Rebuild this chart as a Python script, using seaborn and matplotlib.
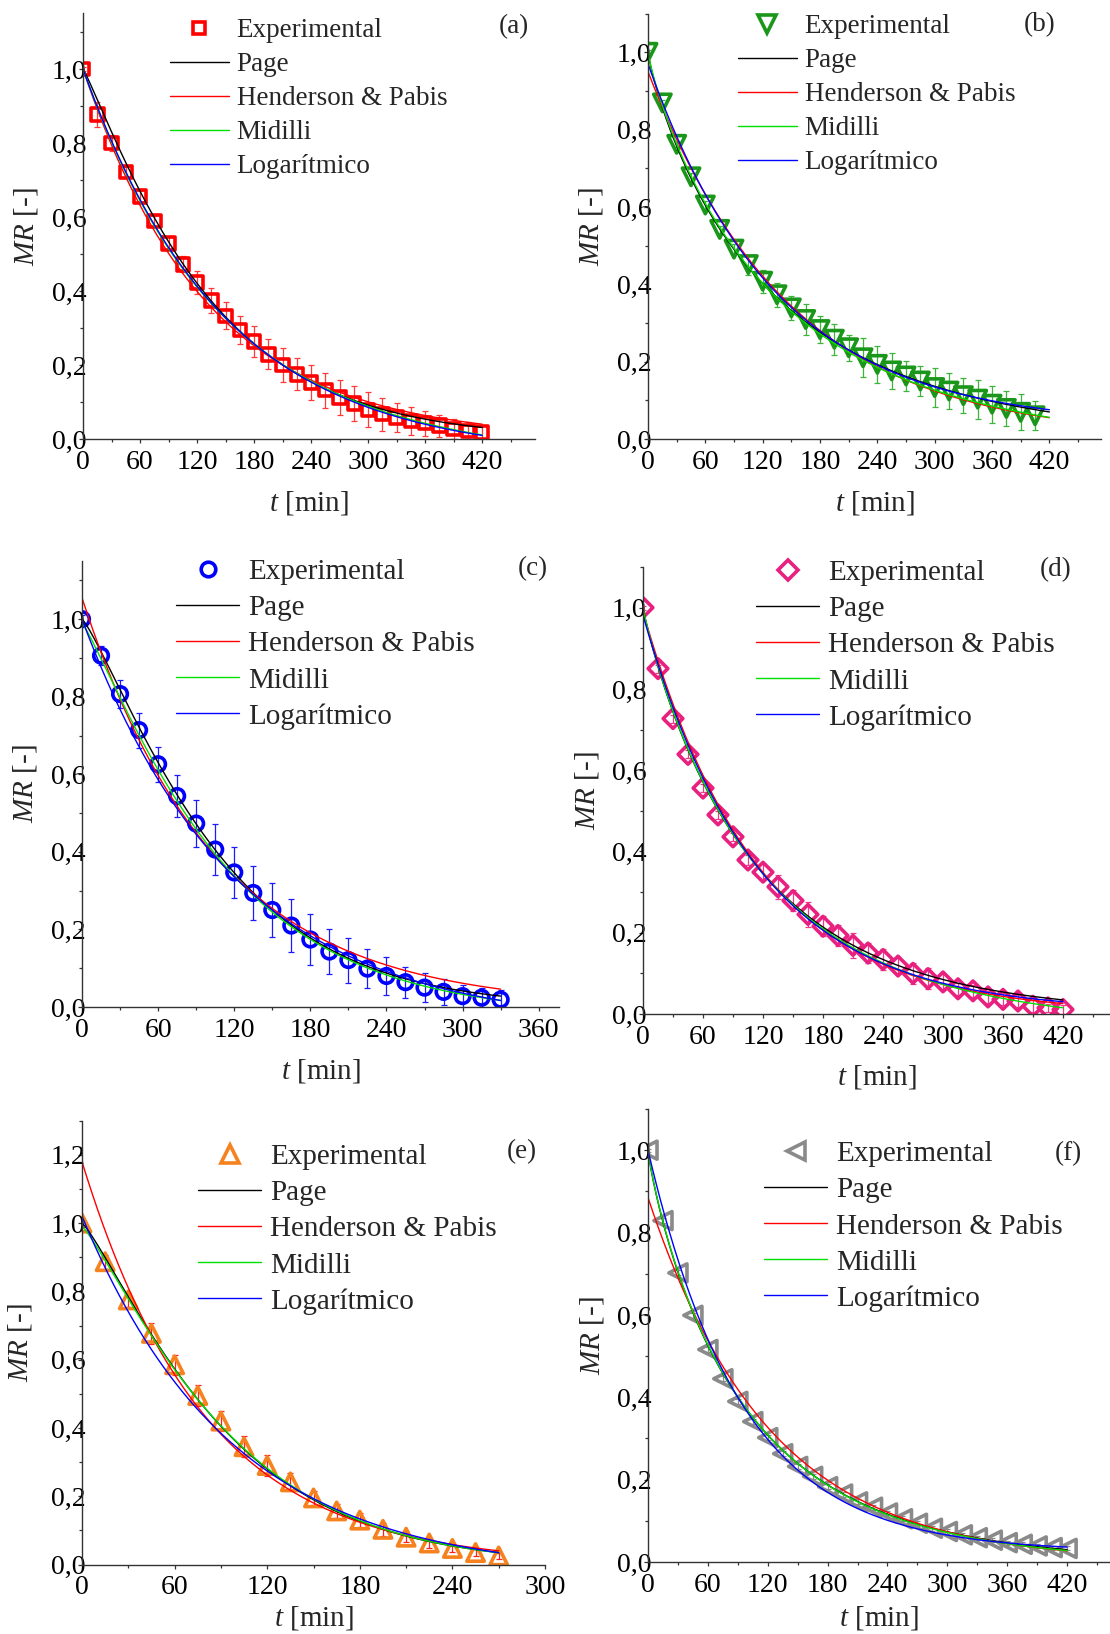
import numpy as np
import pandas as pd
import matplotlib
matplotlib.use("Agg")
import matplotlib.pyplot as plt
import seaborn as sns
from matplotlib.lines import Line2D
from matplotlib.ticker import MultipleLocator, FuncFormatter

# ---------------------------------------------------------------- data
# (a)
t_a = np.arange(0, 421, 15)
mr_a = [1.000, 0.877, 0.800, 0.721, 0.655, 0.589, 0.528, 0.472, 0.423, 0.375,
        0.333, 0.294, 0.263, 0.229, 0.200, 0.175, 0.153, 0.132, 0.112, 0.096,
        0.079, 0.067, 0.058, 0.049, 0.043, 0.036, 0.027, 0.022, 0.018]
err_a = [0.005, 0.035, 0.022, 0.015, 0.015, 0.015, 0.018, 0.022, 0.031, 0.034,
         0.037, 0.038, 0.042, 0.041, 0.046, 0.043, 0.047, 0.047, 0.047, 0.046,
         0.047, 0.045, 0.040, 0.037, 0.034, 0.030, 0.027, 0.023, 0.018]

# (b)
t_b = np.arange(0, 406, 15)
mr_b = [1.000, 0.869, 0.762, 0.678, 0.605, 0.542, 0.491, 0.451, 0.408, 0.373,
        0.339, 0.309, 0.283, 0.258, 0.236, 0.210, 0.193, 0.176, 0.163, 0.150,
        0.133, 0.124, 0.112, 0.103, 0.090, 0.079, 0.069, 0.060]
err_b = [0.005, 0.008, 0.008, 0.010, 0.010, 0.010, 0.012, 0.026, 0.030, 0.031,
         0.031, 0.040, 0.036, 0.040, 0.034, 0.050, 0.047, 0.047, 0.039, 0.040,
         0.050, 0.047, 0.045, 0.050, 0.048, 0.046, 0.047, 0.037]

# (c)
t_c = np.arange(0, 331, 15)
mr_c = [1.000, 0.906, 0.807, 0.714, 0.626, 0.544, 0.473, 0.406, 0.347, 0.294,
        0.250, 0.210, 0.174, 0.143, 0.121, 0.099, 0.080, 0.064, 0.050, 0.039,
        0.028, 0.024, 0.019]
err_c = [0.010, 0.025, 0.035, 0.045, 0.045, 0.055, 0.060, 0.065, 0.065, 0.070,
         0.070, 0.068, 0.065, 0.058, 0.058, 0.050, 0.050, 0.040, 0.037, 0.034,
         0.030, 0.025, 0.025]

# (d)
t_d = np.arange(0, 421, 15)
mr_d = [1.000, 0.850, 0.727, 0.639, 0.556, 0.490, 0.436, 0.379, 0.349, 0.313,
        0.279, 0.245, 0.216, 0.193, 0.169, 0.150, 0.134, 0.118, 0.100, 0.087,
        0.079, 0.062, 0.057, 0.042, 0.036, 0.032, 0.019, 0.015, 0.011]
err_d = [0.005, 0.010, 0.010, 0.010, 0.010, 0.010, 0.010, 0.012, 0.020, 0.030,
         0.025, 0.030, 0.025, 0.025, 0.030, 0.025, 0.025, 0.020, 0.025, 0.025,
         0.020, 0.015, 0.015, 0.015, 0.015, 0.015, 0.015, 0.010, 0.010]

# (e)
t_e = np.arange(0, 271, 15)
mr_e = [1.000, 0.887, 0.775, 0.677, 0.585, 0.495, 0.420, 0.345, 0.290, 0.242,
        0.195, 0.157, 0.130, 0.103, 0.080, 0.063, 0.047, 0.035, 0.025]
err_e = [0.010, 0.020, 0.020, 0.030, 0.030, 0.030, 0.030, 0.030, 0.030, 0.025,
         0.020, 0.020, 0.020, 0.020, 0.015, 0.015, 0.010, 0.010, 0.010]

# (f)
t_f = np.arange(0, 421, 15)
mr_f = [1.000, 0.829, 0.702, 0.599, 0.516, 0.445, 0.390, 0.341, 0.302, 0.263,
        0.232, 0.208, 0.183, 0.165, 0.146, 0.133, 0.119, 0.105, 0.094, 0.082,
        0.074, 0.066, 0.059, 0.053, 0.047, 0.043, 0.039, 0.035, 0.033]
err_f = [0.004, 0.006, 0.006, 0.006, 0.006, 0.006, 0.006, 0.006, 0.006, 0.006,
         0.006, 0.006, 0.006, 0.006, 0.006, 0.006, 0.006, 0.006, 0.006, 0.006,
         0.005, 0.005, 0.005, 0.005, 0.005, 0.005, 0.005, 0.005, 0.005]

# fitted model parameters per sample
# Page: exp(-k t^n) | Henderson & Pabis: a exp(-k t)
# Midilli: a exp(-k t^n) + b t | Logarithmic: a exp(-k t) + c
page_a = dict(k=0.00428, n=1.109)
hp_a = dict(a=1.000, k=0.00766)
mid_a = dict(a=1.000, k=0.0072, n=1.0, b=-0.00009)
log_a = dict(a=1.05, k=0.00683, c=-0.05)

page_b = dict(k=0.0152, n=0.855)
hp_b = dict(a=0.95, k=0.00678)
mid_b = dict(a=1.000, k=0.014, n=0.87, b=-0.00003)
log_b = dict(a=0.935, k=0.007464, c=0.035)

page_c = dict(k=0.003393, n=1.2)
hp_c = dict(a=1.055, k=0.00949)
mid_c = dict(a=0.99, k=0.0043, n=1.15, b=-0.00005)
log_c = dict(a=1.05, k=0.00835, c=-0.05)

page_d = dict(k=0.01298, n=0.92)
hp_d = dict(a=0.99, k=0.0087)
mid_d = dict(a=1.000, k=0.0128, n=0.92, b=-0.00005)
log_d = dict(a=0.975, k=0.0088, c=0.006)

page_e = dict(k=0.004193, n=1.194)
hp_e = dict(a=1.18, k=0.01253)
mid_e = dict(a=0.99, k=0.0042, n=1.19, b=-0.00001)
log_e = dict(a=1.05, k=0.01033, c=-0.03)

page_f = dict(k=0.0181, n=0.872)
hp_f = dict(a=0.885, k=0.0083)
mid_f = dict(a=1.000, k=0.0178, n=0.875, b=-0.000005)
log_f = dict(a=0.975, k=0.01062, c=0.025)

model_names = ["Page", "Henderson & Pabis", "Midilli", "Logarítmico"]
model_colors = ["#000000", "#ff0000", "#00e000", "#0000ff"]


def page(t, k, n):
    return np.exp(-k * t ** n)


def henderson(t, a, k):
    return a * np.exp(-k * t)


def midilli(t, a, k, n, b):
    return a * np.exp(-k * t ** n) + b * t


def logarithmic(t, a, k, c):
    return a * np.exp(-k * t) + c


# ---------------------------------------------------------------- style
sns.set_style("ticks")
plt.rcParams.update({
    "font.family": ["Liberation Serif", "DejaVu Serif"],
    "mathtext.fontset": "custom",
    "mathtext.rm": "Liberation Serif",
    "mathtext.it": "Liberation Serif:italic",
    "axes.edgecolor": "#333333",
    "axes.linewidth": 1.0,
    "xtick.color": "#333333",
    "ytick.color": "#333333",
    "xtick.labelcolor": "black",
    "ytick.labelcolor": "black",
})

W, H = 1110, 1634
fig = plt.figure(figsize=(W / 100, H / 100), dpi=100)
fig.patch.set_facecolor("white")

panels = [
    dict(tag="(a)", t=t_a, mr=mr_a, err=err_a, tmax=420,
         pars=(page_a, hp_a, mid_a, log_a),
         marker="s", ms=9.0, color="#ff0000", ecolor="#ff3a3a",
         box=(83, 534.5, 13.5, 439), xlim=475, ylim=1.15,
         leg=(170, 28), legfs=19.5, label_xy=(514, 27),
         xlab_off=64, ylab_off=57),
    dict(tag="(b)", t=t_b, mr=mr_b, err=err_b, tmax=420,
         pars=(page_b, hp_b, mid_b, log_b),
         marker="v", ms=12.5, color="#1a961a", ecolor="#3cb43c",
         box=(648, 1101, 13.6, 439), xlim=474, ylim=1.10,
         leg=(738, 24), legfs=19.5, label_xy=(1040, 25),
         xlab_off=64, ylab_off=57),
    dict(tag="(c)", t=t_c, mr=mr_c, err=err_c, tmax=330,
         pars=(page_c, hp_c, mid_c, log_c),
         marker="o", ms=10.5, color="#0000ff", ecolor="#1a1aff",
         box=(82, 559, 561, 1007), xlim=376, ylim=1.15,
         leg=(176, 570), legfs=21, label_xy=(533, 569),
         xlab_off=64, ylab_off=57),
    dict(tag="(d)", t=t_d, mr=mr_d, err=err_d, tmax=420,
         pars=(page_d, hp_d, mid_d, log_d),
         marker="D", ms=10.0, color="#e8207f", ecolor="#ee3a8c",
         box=(643, 1110, 567, 1014), xlim=467, ylim=1.10,
         leg=(756, 571), legfs=21, label_xy=(1056, 570),
         xlab_off=63, ylab_off=56),
    dict(tag="(e)", t=t_e, mr=mr_e, err=err_e, tmax=270,
         pars=(page_e, hp_e, mid_e, log_e),
         marker="^", ms=12.5, color="#f5821f", ecolor="#ff2020",
         box=(82, 545, 1120.7, 1564.5), xlim=300, ylim=1.30,
         leg=(198, 1155), legfs=21, label_xy=(522, 1152),
         xlab_off=54, ylab_off=62),
    dict(tag="(f)", t=t_f, mr=mr_f, err=err_f, tmax=420,
         pars=(page_f, hp_f, mid_f, log_f),
         marker="<", ms=13.0, color="#8a8a8a", ecolor="#8a8a8a",
         box=(648, 1110, 1109, 1562), xlim=463, ylim=1.10,
         leg=(764, 1152), legfs=21, label_xy=(1068, 1154),
         xlab_off=56, ylab_off=56),
]

comma = FuncFormatter(lambda v, pos: f"{v:.1f}".replace(".", ","))

for p in panels:
    left, right, top, bottom = p["box"]
    w_px, h_px = right - left, bottom - top
    ax = fig.add_axes([left / W, 1 - bottom / H, w_px / W, h_px / H])
    ax.set_facecolor("white")

    # experimental points with standard deviation
    ax.errorbar(p["t"], p["mr"], yerr=p["err"], fmt="none", ecolor=p["ecolor"],
                elinewidth=0.9, capsize=2.2, capthick=0.9, zorder=1)
    df = pd.DataFrame({"t": p["t"], "MR": p["mr"]})
    sns.scatterplot(data=df, x="t", y="MR", ax=ax, marker=p["marker"],
                    s=p["ms"] ** 2, facecolor="none", edgecolor=p["color"],
                    linewidth=2.6, zorder=1.5, legend=False)

    # model curves
    tt = np.linspace(0, p["tmax"], 400)
    pg, hp, md, lg = p["pars"]
    curves = [page(tt, **pg), henderson(tt, **hp), midilli(tt, **md),
              logarithmic(tt, **lg)]
    for yy, c in zip(curves, model_colors):
        sns.lineplot(x=tt, y=yy, ax=ax, color=c, linewidth=1.0, zorder=2,
                     legend=False, estimator=None, sort=False)

    # axes
    ax.set_xlim(0, p["xlim"])
    ax.set_ylim(0, p["ylim"])
    ax.xaxis.set_major_locator(MultipleLocator(60))
    ax.xaxis.set_minor_locator(MultipleLocator(30))
    ax.yaxis.set_major_locator(MultipleLocator(0.2))
    ax.yaxis.set_minor_locator(MultipleLocator(0.1))
    ax.yaxis.set_major_formatter(comma)
    ax.tick_params(axis="both", which="major", direction="out", length=3,
                   width=0.9, labelsize=20)
    ax.tick_params(axis="both", which="minor", direction="out", length=2.2,
                   width=0.9)
    ax.tick_params(axis="x", which="major", pad=4.7)
    ax.tick_params(axis="y", which="major", pad=-5.6)
    sns.despine(ax=ax)

    ax.set_xlabel(r"$t$ [min]", fontsize=21)
    ax.set_ylabel(r"$MR$ [-]", fontsize=21)
    ax.xaxis.label.set_va("center")
    ax.yaxis.label.set_va("center")
    ax.xaxis.set_label_coords(0.5, -p["xlab_off"] / h_px)
    ax.yaxis.set_label_coords(-p["ylab_off"] / w_px, 0.5)

    # legend
    handles = [Line2D([], [], ls="none", marker=p["marker"], ms=p["ms"],
                      mfc="none", mec=p["color"], mew=2.6)]
    handles += [Line2D([], [], color=c, lw=1.0) for c in model_colors]
    labels = ["Experimental"] + model_names
    fs_px = p["legfs"] * 100 / 72
    lx, ly = p["leg"]
    ax.legend(handles, labels, loc="upper left",
              bbox_to_anchor=(lx / W, 1 - (ly - 0.6 * fs_px + 6.5) / H),
              bbox_transform=fig.transFigure, frameon=False,
              fontsize=p["legfs"], handlelength=2.16, handletextpad=0.3,
              labelspacing=0.33, borderpad=0, borderaxespad=0)

    fig.text(p["label_xy"][0] / W, 1 - p["label_xy"][1] / H, p["tag"],
             ha="center", va="center", fontsize=19.5)

fig.savefig("out.png", dpi=100, facecolor="white")
